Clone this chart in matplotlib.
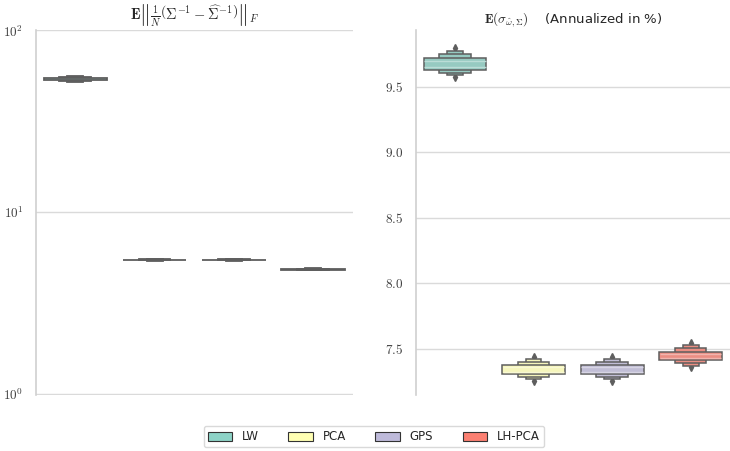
import colorsys

import matplotlib
matplotlib.use("Agg")
import matplotlib.pyplot as plt
import matplotlib.colors as mcolors
from matplotlib.patches import Patch, Rectangle
from matplotlib.ticker import FixedLocator, FuncFormatter, NullLocator
import numpy as np

plt.rcParams["mathtext.fontset"] = "cm"
plt.rcParams["font.family"] = ["DejaVu Sans"]

methods = ["LW", "PCA", "GPS", "LH-PCA"]
palette = ["#8dd3c7", "#ffffb3", "#bebada", "#fb8072"]

# letter-value boxes, innermost (IQR) first
err_median = [54.0, 5.48, 5.48, 4.86]
err_boxes = [
    [(53.5, 54.6), (52.8, 55.3), (52.2, 56.0)],
    [(5.46, 5.50), (5.44, 5.52), (5.42, 5.54)],
    [(5.46, 5.50), (5.44, 5.52), (5.42, 5.54)],
    [(4.84, 4.88), (4.82, 4.90), (4.80, 4.92)],
]
err_outliers = [[], [], [], []]

vol_median = [9.677, 7.345, 7.346, 7.449]
vol_boxes = [
    [(9.628, 9.720), (9.605, 9.748), (9.585, 9.769)],
    [(7.309, 7.378), (7.289, 7.398), (7.268, 7.421)],
    [(7.309, 7.379), (7.289, 7.399), (7.268, 7.421)],
    [(7.416, 7.479), (7.391, 7.505), (7.373, 7.531)],
]
vol_outliers = [[9.572, 9.795], [7.256, 7.436], [7.256, 7.436], [7.362, 7.548]]

edge = "#5e5e5e"


def desat(c, amount=0.75):
    r, g, b = mcolors.to_rgb(c)
    h, l, s = colorsys.rgb_to_hls(r, g, b)
    return colorsys.hls_to_rgb(h, l, s * amount)


def lighten(c, amount=0.5):
    rgb = np.array(mcolors.to_rgb(c))
    return tuple(rgb + (1 - rgb) * amount)


def boxen(ax, medians, boxes, outliers, stripes=True, lw=1.1):
    for i, (med, levels, outs) in enumerate(zip(medians, boxes, outliers)):
        col = desat(palette[i])
        n = len(levels)
        for k in range(n - 1, -1, -1):
            lo, hi = levels[k]
            w = 0.8 / 2 ** k
            ax.add_patch(Rectangle((i - w / 2, lo), w, hi - lo, fc=col, ec=edge,
                                   lw=lw, zorder=3 + n - k))
        if stripes:
            lo, hi = levels[0]
            for y in [(lo + med) / 2, (med + hi) / 2]:
                ax.plot([i - 0.39, i + 0.39], [y, y], color=lighten(col, 0.35),
                        lw=1, zorder=3 + n + 1, solid_capstyle="butt")
        if outs:
            ax.plot([i] * len(outs), outs, "d", ms=3.8, color=edge, mec=edge,
                    zorder=3, ls="none")


def style(ax):
    ax.set_xlim(-0.5, 3.5)
    ax.set_xticks([])
    ax.grid(axis="y", color="#dadada", lw=1)
    ax.set_axisbelow(True)
    for side in ["top", "right", "bottom"]:
        ax.spines[side].set_visible(False)
    ax.spines["left"].set_color("#d0d0d0")
    ax.spines["left"].set_linewidth(1.2)
    ax.tick_params(axis="y", length=0, pad=9, labelsize=9.5, labelcolor="#404040")


fig = plt.figure(figsize=(7.3, 4.51), dpi=100)
ax1 = fig.add_axes([35.7 / 730, 1 - 395 / 451, 317 / 730, 364.6 / 451])
ax2 = fig.add_axes([415.7 / 730, 1 - 395 / 451, 314.3 / 730, 364.6 / 451])

# inverse covariance error, log scale
boxen(ax1, err_median, err_boxes, err_outliers, stripes=False, lw=1.3)
style(ax1)
ax1.set_yscale("log")
ax1.set_ylim(0.99, 100)
ax1.yaxis.set_major_locator(FixedLocator([1, 10, 100]))
ax1.yaxis.set_minor_locator(NullLocator())
ax1.yaxis.set_major_formatter(FuncFormatter(lambda v, p: r"$10^{%d}$" % round(np.log10(v))))
ax1.text(0.5, 1.026,
         r"$\mathbf{E}\left\|\frac{1}{N}\left(\Sigma^{-1}-\widehat{\Sigma}^{-1}\right)\right\|_F$",
         transform=ax1.transAxes, ha="center", va="baseline", fontsize=10.5, color="#262626")

# annualized volatility
boxen(ax2, vol_median, vol_boxes, vol_outliers)
style(ax2)
ax2.set_ylim(7.149, 9.928)
ax2.yaxis.set_major_locator(FixedLocator([7.5, 8.0, 8.5, 9.0, 9.5]))
ax2.yaxis.set_major_formatter(FuncFormatter(lambda v, p: r"$%.1f$" % v))
ax2.text(0.5, 1.019, r"$\mathbf{E}(\sigma_{\hat{\omega},\Sigma})$    (Annualized in %)",
         transform=ax2.transAxes, ha="center", va="baseline", fontsize=9.5, color="#262626")

handles = [Patch(fc=c, ec="#333333", lw=0.8) for c in palette]
fig.legend(handles, methods, loc="lower center", bbox_to_anchor=(0.512, -0.005), ncol=4,
           fontsize=8.5, frameon=True, edgecolor="#d0d0d0", handlelength=2.1,
           handleheight=0.8, columnspacing=2.5, handletextpad=0.8, borderpad=0.35,
           labelcolor="#262626")

fig.savefig("out.png", dpi=100)
